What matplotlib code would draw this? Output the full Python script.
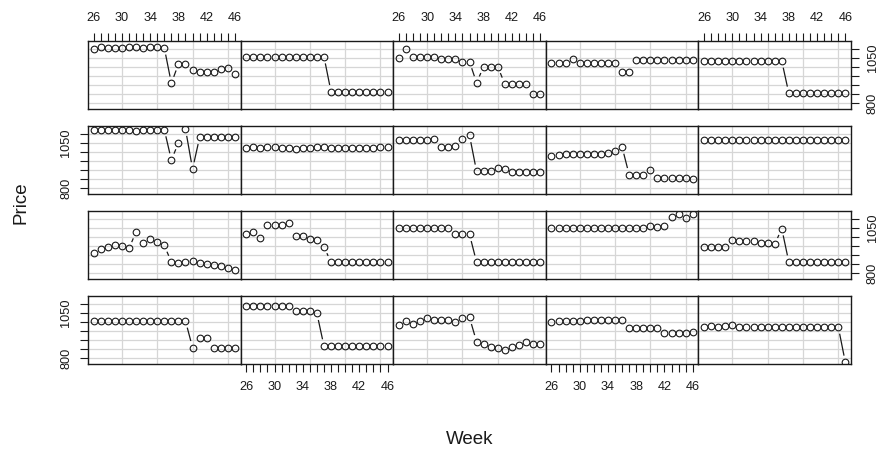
import numpy as np
import matplotlib.pyplot as plt

plt.rcParams['font.family'] = ['Liberation Sans', 'DejaVu Sans']

weeks = list(range(26, 47))

# panel values, rows top -> bottom, columns left -> right
r1c1 = [1100, 1108, 1106, 1106, 1106, 1108, 1112, 1104, 1110, 1112, 1106, 909, 1016, 1016, 985, 972, 970, 972, 990, 992, 958]
r1c2 = [1057] * 12 + [862] * 9
r1c3 = [1048, 1098, 1057, 1057, 1057, 1057, 1042, 1042, 1042, 1029, 1029, 912, 1001, 1001, 1001, 905, 905, 905, 905, 850, 850]
r1c4 = [1024, 1024, 1024, 1042, 1024, 1024, 1024, 1024, 1024, 1024, 973, 973] + [1038] * 9
r1c5 = [1033] * 12 + [853] * 9

r2c1 = [1122, 1122, 1120, 1122, 1120, 1122, 1118, 1120, 1122, 1122, 1124, 955, 1050, 1127, 905] + [1081] * 6
r2c2 = [1022, 1025, 1024, 1026, 1025, 1022, 1020, 1018, 1022, 1024, 1026, 1025, 1024, 1024, 1024, 1024, 1024, 1024, 1024, 1025, 1025]
r2c3 = [1064, 1068, 1064, 1066, 1068, 1070, 1027, 1027, 1032, 1070, 1092, 892, 892, 892, 910, 904, 888, 888, 888, 888, 888]
r2c4 = [978, 984, 986, 986, 988, 986, 988, 990, 995, 1005, 1027, 873, 873, 873, 897, 857, 854, 857, 854, 857, 850]
r2c5 = [1064] * 21

r3c1 = [912, 931, 944, 953, 949, 936, 1027, 964, 990, 972, 953, 860, 853, 860, 866, 857, 848, 844, 838, 829, 816]
r3c2 = [1014, 1029, 996, 1064, 1064, 1064, 1075, 1005, 1005, 990, 983, 944] + [860] * 9
r3c3 = [1051] * 8 + [1014] * 3 + [860] * 10
r3c4 = [1051] * 14 + [1058, 1055, 1058, 1111, 1125, 1107, 1125]
r3c5 = [946, 946, 946, 946, 981, 977, 977, 977, 968, 968, 959, 1046] + [860] * 9

r4c1 = [1005] * 14 + [857, 912, 912, 857, 857, 857, 857]
r4c2 = [1088] * 7 + [1061, 1061, 1058, 1048] + [866] * 10
r4c3 = [983, 1005, 990, 1005, 1020, 1011, 1011, 1011, 1001, 1020, 1025, 890, 875, 860, 853, 846, 860, 872, 890, 879, 879]
r4c4 = [1001, 1003, 1005, 1005, 1007, 1010, 1010, 1010, 1010, 1010, 1010, 964, 964, 964, 964, 964, 936, 936, 936, 938, 946]
r4c5 = [970, 975, 972, 975, 982, 972, 972, 972, 972, 972, 972, 972, 972, 972, 972, 972, 972, 972, 972, 972, 775]

panels = [[r1c1, r1c2, r1c3, r1c4, r1c5],
          [r2c1, r2c2, r2c3, r2c4, r2c5],
          [r3c1, r3c2, r3c3, r3c4, r3c5],
          [r4c1, r4c2, r4c3, r4c4, r4c5]]

x_ticks = list(range(26, 47))
x_labels = [str(w) if (w - 26) % 4 == 0 else '' for w in x_ticks]
y_ticks = list(range(800, 1101, 50))
y_labels = ['800', '', '', '', '', '1050', '']
v_grid = [30, 35, 40, 45]
h_grid = list(range(800, 1101, 50))

W, H = 883, 450
fig = plt.figure(figsize=(W / 100, H / 100), dpi=100)

col_x = [88 + 152.6 * i for i in range(5)]
row_y = [41, 126, 211, 296]
pw, ph = 152.6, 68
ink = '#1a1a1a'
gap = 7.5  # px kept clear around each point (type = "b")

for r in range(4):
    for c in range(5):
        ax = fig.add_axes([col_x[c] / W, 1 - (row_y[r] + ph) / H, pw / W, ph / H])
        ax.set_xlim(25.2, 46.8)
        ax.set_ylim(766, 1144)
        for g in v_grid:
            ax.axvline(g, color='#d6d6d6', lw=0.9, zorder=0)
        for g in h_grid:
            ax.axhline(g, color='#d6d6d6', lw=0.9, zorder=0)

        vals = panels[r][c]
        ax.plot(weeks, vals, 'o', ms=4.8, mfc='none', mec=ink, mew=0.8, zorder=3)

        # line segments with a gap around the points
        pts = ax.transData.transform(np.column_stack([weeks, vals]))
        inv = ax.transData.inverted()
        for i in range(len(pts) - 1):
            d = pts[i + 1] - pts[i]
            L = np.hypot(*d)
            if L > 2 * gap + 1:
                u = d / L
                seg = inv.transform([pts[i] + u * gap, pts[i + 1] - u * gap])
                ax.plot(seg[:, 0], seg[:, 1], color=ink, lw=0.9, zorder=2)

        for s in ax.spines.values():
            s.set_color(ink)
            s.set_linewidth(1.0)

        top_on = r == 0 and c in (0, 2, 4)
        bottom_on = r == 3 and c in (1, 3)
        left_on = c == 0 and r in (1, 3)
        right_on = c == 4 and r in (0, 2)

        ax.set_xticks(x_ticks, x_labels)
        ax.set_yticks(y_ticks, y_labels, rotation=90, va='center')
        ax.tick_params(axis='x', top=top_on, labeltop=top_on, bottom=bottom_on, labelbottom=bottom_on,
                       direction='out', length=5.5, width=0.8, pad=6.5, colors=ink, labelsize=9.2)
        ax.tick_params(axis='y', left=left_on, labelleft=left_on, right=right_on, labelright=right_on,
                       direction='out', length=5.5, width=0.8, pad=6, colors=ink, labelsize=9.2)

fig.text(21 / W, 1 - 203 / H, 'Price', rotation=90, ha='center', va='center', fontsize=13.5, color=ink)
fig.text(469.5 / W, 1 - 440 / H, 'Week', ha='center', va='center', fontsize=13.5, color=ink)

fig.savefig('out.png', dpi=100, facecolor='white')
